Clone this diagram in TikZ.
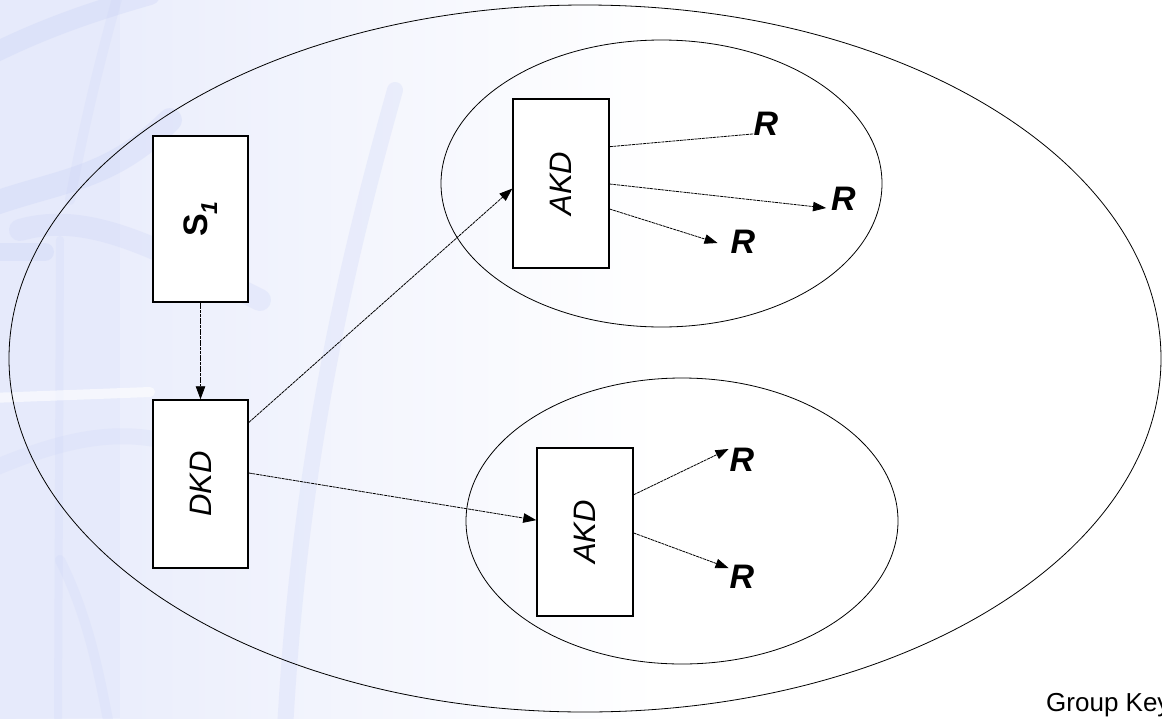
\documentclass[tikz,border=0pt]{standalone}
\usepackage{fontspec}
\setmainfont{Liberation Sans}
\usetikzlibrary{arrows.meta,calc,shapes.geometric}

\definecolor{bgblue}{RGB}{230,234,251}
\definecolor{swirl}{RGB}{200,209,246}

\tikzset{
  keybox/.style={draw, line width=1.5pt, fill=white, inner sep=0pt,
                 minimum width=96pt, minimum height=168pt},
  group/.style={draw, line width=0.8pt},
  link/.style={line width=0.8pt, black, dash pattern=on 3pt off 0.7pt},
  flow/.style={link, -{Triangle[length=13pt,width=9.5pt]}},
  rlabel/.style={font=\fontsize{34}{36}\selectfont\bfseries\itshape, inner sep=0pt},
  streak/.style={swirl, line cap=round, opacity=0.3},
}

\begin{document}
\begin{tikzpicture}[x=1pt,y=-1pt]
  \useasboundingbox (0,0) rectangle (1162,718);
  \clip (0,0) rectangle (1162,718);

  % backdrop: pale blue wash fading to white, with soft swirl strokes
  \fill[white] (0,0) rectangle (1162,718);
  \shade[left color=bgblue, right color=white] (0,0) rectangle (660,718);
  \fill[bgblue] (0,0) rectangle (120,718);
  \draw[streak, line width=20pt] (-10,55) .. controls (40,30) and (90,12) .. (150,-5);
  \draw[streak, line width=10pt, opacity=0.2] (118,-5) .. controls (100,60) and (85,120) .. (70,200);
  \draw[streak, line width=24pt] (-10,205) .. controls (60,180) and (110,180) .. (170,120);
  \draw[streak, line width=18pt] (-10,252) -- (45,252);
  \draw[streak, line width=22pt, opacity=0.25] (20,230) .. controls (90,210) and (160,250) .. (260,300);
  \draw[streak, line width=8pt, opacity=0.2] (60,240) -- (58,718);
  \draw[streak, line width=16pt, opacity=0.25] (395,90) .. controls (350,250) and (300,450) .. (285,730);
  \draw[white, opacity=0.6, line width=10pt, line cap=round] (-10,398) -- (150,392);
  \draw[streak, line width=16pt, opacity=0.2] (-10,470) .. controls (60,440) and (110,430) .. (160,440);
  \draw[streak, line width=10pt, opacity=0.2] (60,560) .. controls (90,620) and (100,680) .. (110,730);

  % key groups
  \node[group, ellipse, minimum width=1152pt, minimum height=707pt, inner sep=0pt]
    (outer) at (585,358.5) {};
  \node[group, ellipse, minimum width=441pt, minimum height=287pt, inner sep=0pt]
    (upper) at (661.5,183.5) {};
  \node[group, ellipse, minimum width=432pt, minimum height=286pt, inner sep=0pt]
    (lower) at (682,521) {};

  % key boxes
  \node[keybox, minimum width=95pt, minimum height=166pt] (s1) at (200.5,219)
    {\rotatebox{90}{\fontsize{34}{36}\selectfont\bfseries S\raisebox{-0.28em}{\fontsize{23}{24}\selectfont\itshape 1}}};
  \node[keybox, minimum width=95pt] (dkd) at (200.5,484)
    {\rotatebox{90}{\fontsize{31}{32}\selectfont\itshape DKD}};
  \node[keybox, minimum height=169pt] (akdT) at (561,183.5)
    {\rotatebox{90}{\fontsize{31}{32}\selectfont\itshape AKD}};
  \node[keybox] (akdB) at (585,532)
    {\rotatebox{90}{\fontsize{31}{32}\selectfont\itshape AKD}};

  % receivers
  \node[rlabel] (r1) at (766,124) {R};
  \node[rlabel] (r2) at (843.5,199) {R};
  \node[rlabel] (r3) at (743,242) {R};
  \node[rlabel] (r4) at (742,460) {R};
  \node[rlabel] (r5) at (742,577) {R};

  \coordinate (r1in) at ($(r1.south west)+(0,-2)$);
  \coordinate (r2in) at ($(r2.west)+(-5,9)$);
  \coordinate (r3in) at ($(r3.west)+(-13,1)$);
  \coordinate (r4in) at ($(r4.west)+(-1,-11)$);
  \coordinate (r5in) at ($(r5.west)+(-1,-9)$);

  % distribution links
  \draw[flow] (s1.south) -- (dkd.north);
  \draw[flow] ($(dkd.north east)!0.137!(dkd.south east)$) -- ($(akdT.north west)!0.53!(akdT.south west)$);
  \draw[flow] ($(dkd.north east)!0.435!(dkd.south east)$) -- ($(akdB.north west)!0.43!(akdB.south west)$);

  \draw[link] ($(akdT.north east)!0.284!(akdT.south east)$) -- (r1in);
  \draw[flow] ($(akdT.north east)!0.503!(akdT.south east)$) -- (r2in);
  \draw[flow] ($(akdT.north east)!0.65!(akdT.south east)$) -- (r3in);
  \draw[flow] ($(akdB.north east)!0.28!(akdB.south east)$) -- (r4in);
  \draw[flow] ($(akdB.north east)!0.506!(akdB.south east)$) -- (r5in);

  \node[anchor=base west, inner sep=0pt, font=\fontsize{26}{28}\selectfont] (gk) at (1046,711) {Group Key};
\end{tikzpicture}
\end{document}
